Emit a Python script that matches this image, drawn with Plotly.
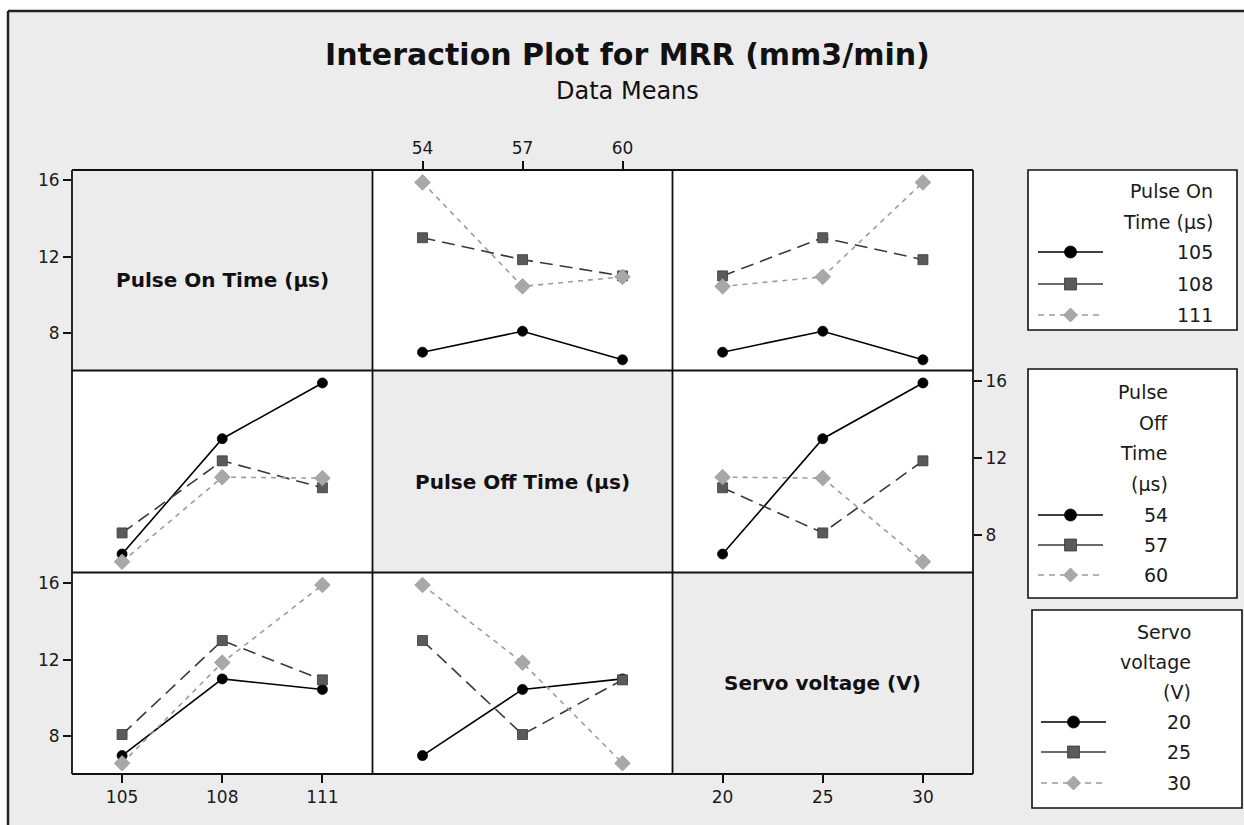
import plotly.graph_objects as go

W, H = 1244, 825

# ---------------- data ----------------
factor_labels = ["Pulse On Time (μs)", "Pulse Off Time (μs)", "Servo voltage (V)"]
legend_titles = [["Pulse On", "Time (μs)"], ["Pulse", "Off", "Time", "(μs)"], ["Servo", "voltage", "(V)"]]
pulse_on_levels = [105, 108, 111]
pulse_off_levels = [54, 57, 60]
servo_levels = [20, 25, 30]

# L9 runs (one observation per factor-pair combination)
run_pulse_on = [105, 105, 105, 108, 108, 108, 111, 111, 111]
run_pulse_off = [54, 57, 60, 54, 57, 60, 54, 57, 60]
run_servo = [20, 25, 30, 25, 30, 20, 30, 20, 25]
mrr = [7.0, 8.1, 6.6, 13.0, 11.85, 11.0, 15.9, 10.45, 10.95]

y_tick_vals = [8, 12, 16]
y_range = [6.04, 16.55]

levels = [pulse_on_levels, pulse_off_levels, servo_levels]
runs = [run_pulse_on, run_pulse_off, run_servo]

# ---------------- layout helpers (pixels) ----------------
col_px = [72, 372.5, 672.5, 973]
row_px = [170, 370.5, 572.5, 774]


def X(px):
    return px / W


def Y(py):
    return 1 - py / H


FONT = "DejaVu Sans"

line_styles = [
    dict(color="#000000", dash="solid", symbol="circle", mcolor="#000000", mline="#000000", size=10),
    dict(color="#3a3a3a", dash="13px,7px", symbol="square", mcolor="#5a5a5a", mline="#3a3a3a", size=10),
    dict(color="#9c9c9c", dash="5px,5px", symbol="diamond", mcolor="#a8a8a8", mline="#999999", size=12),
]

fig = go.Figure()
layout_axes = {}
shapes = []
annotations = []

for r in range(3):
    for c in range(3):
        k = r * 3 + c + 1
        xa = "x" if k == 1 else f"x{k}"
        ya = "y" if k == 1 else f"y{k}"
        xname = "xaxis" if k == 1 else f"xaxis{k}"
        yname = "yaxis" if k == 1 else f"yaxis{k}"
        lv = levels[c]
        step = lv[1] - lv[0]
        xr = [lv[0] - 0.5 * step, lv[-1] + 0.5 * step]

        show_x = (r == 2 and c in (0, 2)) or (r == 0 and c == 1)
        show_y = (c == 0 and r in (0, 2)) or (c == 2 and r == 1)

        layout_axes[xname] = dict(
            domain=[X(col_px[c]), X(col_px[c + 1])],
            anchor=ya, range=xr, showgrid=False, zeroline=False, showline=False,
            tickvals=lv if show_x else [], ticktext=[str(v) for v in lv] if show_x else [],
            ticks="outside" if show_x else "", ticklen=8, tickwidth=1.5, tickcolor="#111111",
            side="top" if r == 0 else "bottom",
            showticklabels=show_x,
            tickfont=dict(family=FONT, size=17, color="#1a1a1a"),
            fixedrange=True,
        )
        layout_axes[yname] = dict(
            domain=[Y(row_px[r + 1]), Y(row_px[r])],
            anchor=xa, range=y_range, showgrid=False, zeroline=False, showline=False,
            tickvals=y_tick_vals if show_y else [],
            ticks="outside" if show_y else "", ticklen=8, tickwidth=1.5, tickcolor="#111111",
            side="right" if c == 2 else "left",
            showticklabels=show_y,
            tickfont=dict(family=FONT, size=17, color="#1a1a1a"),
            fixedrange=True,
        )

        if r == c:
            # empty trace so the diagonal subplot (ticks) is created
            fig.add_trace(go.Scatter(x=lv, y=[None] * len(lv), xaxis=xa, yaxis=ya,
                                     mode="markers", showlegend=False, hoverinfo="skip"))
            dref = "x domain" if k == 1 else f"x{k} domain"
            yref = "y domain" if k == 1 else f"y{k} domain"
            shapes.append(dict(type="rect", xref=dref, yref=yref, x0=0, x1=1, y0=0, y1=1,
                               fillcolor="#ececec", line=dict(width=0), layer="below"))
            annotations.append(dict(xref=dref, yref=yref, x=0.5, y=0.45,
                                    xanchor="center", yanchor="middle",
                                    text=f"<b>{factor_labels[r]}</b>", showarrow=False,
                                    font=dict(family=FONT, size=20, color="#111111")))
            continue

        for li, lev in enumerate(levels[r]):
            ys = []
            for xl in levels[c]:
                vals = [mrr[i] for i in range(len(mrr)) if runs[r][i] == lev and runs[c][i] == xl]
                ys.append(sum(vals) / len(vals))
            st = line_styles[li]
            fig.add_trace(go.Scatter(
                x=levels[c], y=ys, xaxis=xa, yaxis=ya, mode="lines+markers",
                line=dict(color=st["color"], width=1.6, dash=st["dash"]),
                marker=dict(symbol=st["symbol"], size=st["size"], color=st["mcolor"],
                            line=dict(width=0.8, color=st["mline"])),
                showlegend=False, cliponaxis=False, hoverinfo="x+y",
            ))

# ---------------- panel grid lines ----------------
for xp in col_px:
    shapes.append(dict(type="line", xref="paper", yref="paper", x0=X(xp), x1=X(xp),
                       y0=Y(row_px[-1]), y1=Y(row_px[0]), line=dict(color="#111111", width=1.8)))
for yp in row_px:
    shapes.append(dict(type="line", xref="paper", yref="paper", x0=X(col_px[0]), x1=X(col_px[-1]),
                       y0=Y(yp), y1=Y(yp), line=dict(color="#111111", width=1.8)))

# ---------------- background / frame ----------------
shapes.insert(0, dict(type="rect", xref="paper", yref="paper", x0=0, x1=1, y0=Y(11), y1=1,
                      fillcolor="white", line=dict(width=0), layer="below"))
shapes.insert(1, dict(type="rect", xref="paper", yref="paper", x0=0, x1=X(8), y0=0, y1=1,
                      fillcolor="white", line=dict(width=0), layer="below"))
shapes.append(dict(type="line", xref="paper", yref="paper", x0=X(8), x1=1, y0=Y(11), y1=Y(11),
                   line=dict(color="#222222", width=2.5)))
shapes.append(dict(type="line", xref="paper", yref="paper", x0=X(8), x1=X(8), y0=0, y1=Y(11),
                   line=dict(color="#222222", width=2.5)))

# ---------------- title ----------------
annotations.append(dict(xref="paper", yref="paper", x=X(627), y=Y(55),
                        xanchor="center", yanchor="middle",
                        text="<b>Interaction Plot for MRR (mm3/min)</b>", showarrow=False,
                        font=dict(family=FONT, size=30, color="#111111")))
annotations.append(dict(xref="paper", yref="paper", x=X(627), y=Y(91),
                        xanchor="center", yanchor="middle",
                        text="Data Means", showarrow=False,
                        font=dict(family=FONT, size=24, color="#111111")))

# ---------------- legends (decorative, pixel-placed) ----------------
legend_boxes = [
    dict(x0=1028, x1=1237, y0=170, y1=330, title_y=[191, 222], item_y=[252, 284, 315],
         text_x=1215, line_x=[1038, 1103]),
    dict(x0=1028, x1=1237, y0=369, y1=598, title_y=[392, 423, 453, 484], item_y=[515, 545, 575],
         text_x=1170, line_x=[1038, 1103]),
    dict(x0=1032, x1=1242, y0=610, y1=808, title_y=[632, 662, 692], item_y=[722, 752, 783],
         text_x=1193, line_x=[1041, 1106]),
]
legend_dash = ["solid", "solid", "6px,5px"]

for f, box in enumerate(legend_boxes):
    shapes.append(dict(type="rect", xref="paper", yref="paper",
                       x0=X(box["x0"]), x1=X(box["x1"]), y0=Y(box["y1"]), y1=Y(box["y0"]),
                       fillcolor="white", line=dict(color="#111111", width=1.6), layer="below"))
    for t, ty in zip(legend_titles[f], box["title_y"]):
        annotations.append(dict(xref="paper", yref="paper", x=X(box["text_x"]), y=Y(ty),
                                xanchor="right", yanchor="middle", text=t, showarrow=False,
                                font=dict(family=FONT, size=19, color="#1a1a1a")))
    for li, (lev, iy) in enumerate(zip(levels[f], box["item_y"])):
        st = line_styles[li]
        annotations.append(dict(xref="paper", yref="paper", x=X(box["text_x"]), y=Y(iy),
                                xanchor="right", yanchor="middle", text=str(lev), showarrow=False,
                                font=dict(family=FONT, size=19, color="#1a1a1a")))
        lx0, lx1 = box["line_x"]
        shapes.append(dict(type="line", xref="paper", yref="paper", x0=X(lx0), x1=X(lx1),
                           y0=Y(iy), y1=Y(iy),
                           line=dict(color=st["color"], width=1.6, dash=legend_dash[li])))
        cx = (lx0 + lx1) / 2
        hs = st["size"] / 2 + 1
        common = dict(xref="paper", yref="paper", xsizemode="pixel", ysizemode="pixel",
                      xanchor=X(cx), yanchor=Y(iy), fillcolor=st["mcolor"],
                      line=dict(color=st["mline"], width=0.8))
        if st["symbol"] == "circle":
            shapes.append(dict(type="circle", x0=-hs, x1=hs, y0=-hs, y1=hs, **common))
        elif st["symbol"] == "square":
            shapes.append(dict(type="rect", x0=-hs, x1=hs, y0=-hs, y1=hs, **common))
        else:
            shapes.append(dict(type="path", path=f"M 0 {hs} L {hs} 0 L 0 {-hs} L {-hs} 0 Z", **common))

fig.update_layout(
    width=W, height=H, autosize=False,
    margin=dict(l=0, r=0, t=0, b=0, autoexpand=False),
    paper_bgcolor="#ececec", plot_bgcolor="white",
    showlegend=False,
    shapes=shapes, annotations=annotations,
    font=dict(family=FONT),
    **layout_axes,
)

fig.write_html(
    "out.html",
    config={"displayModeBar": False},
    post_script="document.body.style.margin='0px';document.body.style.overflow='hidden';",
)
